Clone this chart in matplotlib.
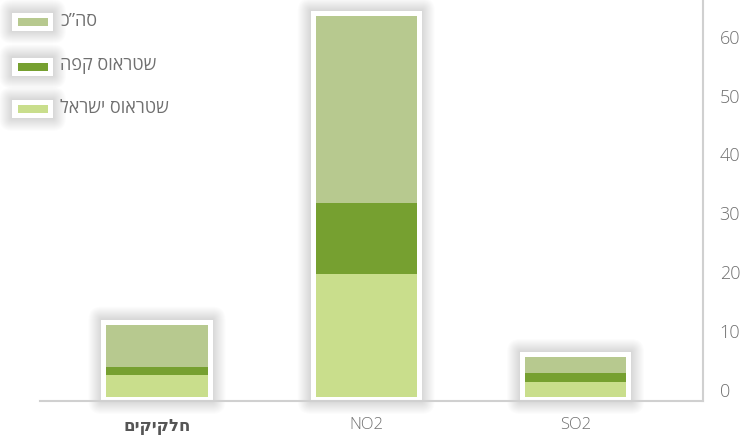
import numpy as np
import matplotlib
matplotlib.use("Agg")
import matplotlib.pyplot as plt
from matplotlib.patches import Rectangle, FancyBboxPatch
from matplotlib.transforms import ScaledTranslation, IdentityTransform

plt.rcParams['font.family'] = ['Open Sans', 'DejaVu Sans']

# Emission data per pollutant
categories = ["חלקיקים", "NO2", "SO2"]
israel = [3.7, 20.9, 2.6]
coffee = [1.4, 12.1, 1.4]
total = [7.2, 31.8, 2.8]
series_names = ["סה\u201dכ", "שטראוס קפה", "שטראוס ישראל"]
y_ticks = [0, 10, 20, 30, 40, 50, 60]

c_total = "#b7c98f"
c_coffee = "#76a030"
c_israel = "#c9de8c"
text_gray = "#707070"


def visual(s):
    """Hebrew runs are laid out right-to-left; matplotlib draws glyphs left-to-right."""
    if any('\u0590' <= ch <= '\u05ff' for ch in s):
        return s[::-1]
    return s


W, H, DPI = 747, 436, 100
fig = plt.figure(figsize=(W / DPI, H / DPI), dpi=DPI)
fig.patch.set_facecolor("white")

ax = fig.add_axes([40 / W, 35.5 / H, 663 / W, 400.5 / H])
x0, x1 = -0.559, 2.609
y0, y1 = -0.6, 67.5
ax.set_xlim(x0, x1)
ax.set_ylim(y0, y1)
ax.set_facecolor("none")

ident = IdentityTransform()


def card(left, bottom, width, height):
    """White card with a soft gray halo; coordinates in display pixels (origin bottom-left)."""
    for k in range(1, 14):
        fig.patches.append(FancyBboxPatch(
            (left, bottom), width, height,
            boxstyle=f"round,pad={k},rounding_size={k}",
            facecolor="black", edgecolor="none", alpha=0.010,
            transform=ident, zorder=1))
    fig.patches.append(Rectangle((left, bottom), width, height, facecolor="white",
                                 edgecolor="none", transform=ident, zorder=1.5))


x = np.arange(len(categories))
bw = 0.483
tops = [a + b + c for a, b, c in zip(israel, coffee, total)]

for xi, top in zip(x, tops):
    (lx, by) = ax.transData.transform((xi - bw / 2, 0))
    (rx, ty) = ax.transData.transform((xi + bw / 2, top))
    card(lx - 5, by - 4, (rx - lx) + 10, (ty - by) + 9)

ax.bar(x, israel, bw, color=c_israel, zorder=4)
ax.bar(x, coffee, bw, bottom=israel, color=c_coffee, zorder=4)
ax.bar(x, total, bw, bottom=np.add(israel, coffee), color=c_total, zorder=4)

# axes styling
for s in ["top", "left"]:
    ax.spines[s].set_visible(False)
ax.spines["bottom"].set_color("#d0d0d0")
ax.spines["bottom"].set_linewidth(1.5)
ax.spines["bottom"].set_zorder(0.5)
ax.spines["right"].set_color("#d0d0d0")
ax.spines["right"].set_linewidth(1.5)
ax.set_zorder(2)

ax.yaxis.tick_right()
ax.set_yticks(y_ticks)
ax.tick_params(axis="y", length=0, pad=12, labelsize=13, labelcolor=text_gray)
off = ScaledTranslation(0, 5.3 / 72, fig.dpi_scale_trans)
for lab in ax.get_yticklabels():
    lab.set_transform(lab.get_transform() + off)
    lab.set_fontweight("light")

ax.set_xticks(x)
ax.set_xticklabels([visual(c) for c in categories])
ax.tick_params(axis="x", length=0, pad=12, labelsize=12, labelcolor=text_gray)
lbls = ax.get_xticklabels()
for lab in lbls[1:]:
    lab.set_fontweight("light")
lbls[0].set_fontweight("bold")
lbls[0].set_color("#555555")

# legend in pixel coordinates (origin top-left)
leg_y = [21.5, 66.5, 109]
leg_colors = [c_total, c_coffee, c_israel]
for name, col, cy in zip(series_names, leg_colors, leg_y):
    card(12, H - (cy + 9), 41, 18)
    fig.patches.append(Rectangle((17.7, H - (cy + 4)), 30, 8, facecolor=col,
                                 edgecolor="none", transform=ident, zorder=2))
    fig.text(60 / W, 1 - (cy - 1) / H, visual(name), fontsize=13, color=text_gray,
             ha="left", va="center")

fig.savefig("out.png", dpi=DPI, facecolor="white")
